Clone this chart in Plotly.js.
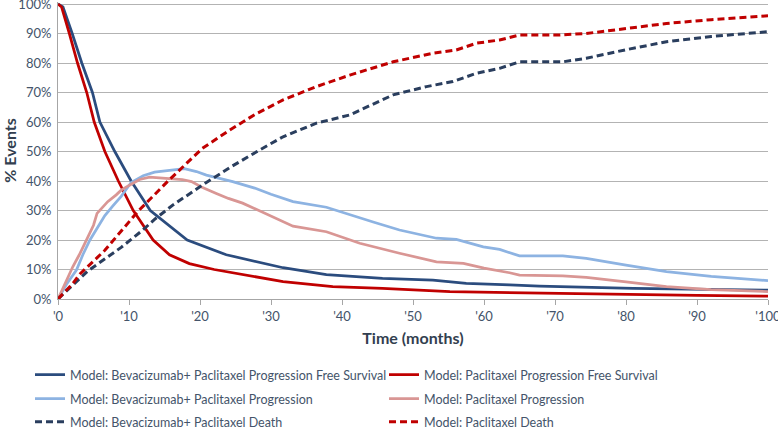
<!DOCTYPE html>
<html>
<head>
<meta charset="utf-8">
<script src="https://cdn.plot.ly/plotly-3.0.1.min.js"></script>
<style>html,body{margin:0;padding:0;background:#fff;}#chart{width:778px;height:429px;}</style>
</head>
<body>
<div id="chart"></div>
<script>
// Series names
const seriesNames = [
  'Model: Bevacizumab+ Paclitaxel Progression Free Survival',
  'Model: Paclitaxel Progression Free Survival',
  'Model: Bevacizumab+ Paclitaxel Progression',
  'Model: Paclitaxel Progression',
  'Model: Bevacizumab+ Paclitaxel Death',
  'Model: Paclitaxel Death'
];

// Bevacizumab+ Paclitaxel PFS
const bevPfsT = [0, 0.7, 2.0, 3.35, 4.85, 5.9, 8.0, 10.3, 13.0, 18.2, 23.7, 27.0, 31.7, 37.8, 45.7, 52.8, 57.5, 63.6, 67.8, 81.0, 90.0, 100];
const bevPfsV = [100, 99, 90, 80, 70, 60, 50, 40, 30, 20, 15, 13.2, 10.6, 8.3, 7.0, 6.4, 5.3, 4.8, 4.4, 3.6, 3.3, 3.0];

// Paclitaxel PFS
const pacPfsT = [0, 0.5, 1.6, 2.75, 4.05, 5.1, 6.6, 8.5, 10.6, 13.4, 15.7, 18.5, 22.0, 27.0, 31.7, 38.7, 45.7, 55.2, 62.2, 67.8, 80.0, 90.0, 100];
const pacPfsV = [100, 99, 90, 80, 70, 60, 50, 40, 30, 20, 15, 12, 10, 7.8, 5.9, 4.2, 3.6, 2.5, 2.2, 1.9, 1.5, 1.2, 1.0];

// Bevacizumab+ Paclitaxel Progression
const bevProgT = [0, 1.2, 2.6, 3.5, 4.5, 5.5, 6.6, 7.7, 8.9, 10.3, 12.0, 13.6, 15.3, 17.8, 19.5, 20.9, 24.6, 27.7, 30.0, 33.1, 37.8, 41.1, 44.5, 48.1, 53.3, 56.1, 59.9, 62.2, 65.0, 71.1, 74.4, 80.0, 85.7, 92.0, 100];
const bevProgV = [0, 5, 9.8, 15, 20, 24, 28.3, 31.5, 34.8, 39.5, 41.8, 43.0, 43.4, 44.2, 43.2, 42.0, 39.8, 37.6, 35.5, 33.0, 31.1, 28.5, 26.0, 23.4, 20.6, 20.2, 17.7, 16.8, 14.6, 14.6, 13.8, 11.5, 9.3, 7.7, 6.2];

// Paclitaxel Progression
const pacProgT = [0, 1.0, 2.1, 3.0, 4.0, 5.0, 5.5, 6.1, 7.0, 8.2, 8.9, 10.0, 11.5, 12.9, 15.0, 17.5, 18.8, 20.2, 22.3, 24.0, 26.0, 28.0, 30.5, 33.1, 37.8, 42.5, 48.1, 53.3, 57.1, 60.0, 63.6, 65.0, 71.1, 74.4, 80.0, 85.7, 92.0, 100];
const pacProgV = [0, 5.5, 11, 15, 20, 25, 29, 30.7, 33, 35.3, 36.9, 38.5, 40.5, 41.3, 41.0, 40.5, 39.8, 38.0, 35.8, 34.1, 32.5, 30.3, 27.5, 24.7, 22.8, 18.9, 15.5, 12.6, 12.1, 10.5, 8.9, 8.1, 7.8, 7.3, 5.8, 4.2, 3.2, 2.5];

// Bevacizumab+ Paclitaxel Death
const bevDeathT = [0, 4.2, 8.9, 12.0, 13.6, 16.2, 20.9, 24.5, 28.4, 31.7, 36.4, 41.1, 47.2, 51.9, 55.6, 58.9, 62.2, 65.0, 71.1, 74.4, 80.0, 85.7, 92.0, 100];
const bevDeathV = [0, 9.5, 17.5, 23.5, 27.0, 31.9, 39.5, 45.0, 50.5, 55.0, 59.6, 62.4, 69.2, 72.0, 73.7, 76.5, 78.2, 80.4, 80.4, 81.6, 84.5, 87.2, 89.0, 90.6];

// Paclitaxel Death
const pacDeathT = [0, 2.0, 3.1, 6.6, 7.3, 11.3, 15.5, 20.3, 24.0, 27.7, 31.7, 36.4, 41.1, 47.2, 52.8, 56.1, 58.9, 62.2, 65.0, 70.7, 74.4, 80.0, 85.7, 92.0, 100];
const pacDeathV = [0, 5.0, 8.5, 16.5, 18.5, 29.8, 40.0, 51.0, 57.0, 62.5, 67.5, 72.0, 75.9, 80.4, 83.3, 84.4, 86.7, 87.8, 89.5, 89.5, 90.0, 91.8, 93.4, 94.7, 96.0];

// Axis ticks
const xTickVals = [0, 10, 20, 30, 40, 50, 60, 70, 80, 90, 100];
const xTickText = ["'0", "'10", "'20", "'30", "'40", "'50", "'60", "'70", "'80", "'90", "'100"];
const yTickVals = [0, 10, 20, 30, 40, 50, 60, 70, 80, 90, 100];
const yTickText = ['0%', '10%', '20%', '30%', '40%', '50%', '60%', '70%', '80%', '90%', '100%'];

const FONT = 'Lato, "Open Sans", sans-serif';
const TXT = '#44546A';

function tr(x, y, name, color, dash, width, legend) {
  return {
    x: x, y: y, name: name, type: 'scatter', mode: 'lines',
    line: {color: color, width: width, dash: dash},
    legend: legend, hoverinfo: 'skip'
  };
}

const data = [
  tr(bevPfsT, bevPfsV, seriesNames[0], '#2B4C7E', 'solid', 2.75, 'legend'),
  tr(pacPfsT, pacPfsV, seriesNames[1], '#C00000', 'solid', 2.75, 'legend'),
  tr(bevProgT, bevProgV, seriesNames[2], '#8DB3E2', 'solid', 2.75, 'legend2'),
  tr(pacProgT, pacProgV, seriesNames[3], '#D99694', 'solid', 2.75, 'legend2'),
  tr(bevDeathT, bevDeathV, seriesNames[4], '#2A3E5E', '7px,4px', 3, 'legend3'),
  tr(pacDeathT, pacDeathV, seriesNames[5], '#C00000', '7px,4px', 3, 'legend3')
];

const plotH = 297;
function legendAt(py) {
  return {
    orientation: 'h', entrywidth: 309, entrywidthmode: 'pixels',
    x: (30 - 58) / 710, xanchor: 'left',
    y: (299 - py) / plotH, yanchor: 'middle',
    font: {family: FONT, size: 12.5, color: TXT},
    bgcolor: 'rgba(0,0,0,0)', borderwidth: 0
  };
}

const layout = {
  width: 778, height: 429,
  margin: {l: 58, r: 10, t: 2, b: 130, autoexpand: false},
  paper_bgcolor: '#ffffff', plot_bgcolor: '#ffffff',
  font: {family: FONT, size: 13, color: TXT},
  showlegend: true,
  legend: legendAt(375),
  legend2: legendAt(399),
  legend3: legendAt(422),
  xaxis: {
    range: [0, 100], tickvals: xTickVals, ticktext: xTickText,
    showgrid: false, zeroline: false,
    showline: true, linecolor: '#A6A6A6', linewidth: 1,
    ticks: 'outside', ticklen: 5, tickcolor: '#A6A6A6',
    ticklabeloverflow: 'allow',
    tickfont: {family: FONT, size: 13, color: TXT},
    title: {text: 'Time (months)', font: {family: FONT, size: 16, color: '#333F50', weight: 'bold'}, standoff: 10},
    fixedrange: true
  },
  yaxis: {
    range: [0, 100.68], tickvals: yTickVals, ticktext: yTickText,
    showgrid: true, gridcolor: '#B3B3B3', gridwidth: 1,
    zeroline: false, showline: true, linecolor: '#A6A6A6', linewidth: 1,
    ticks: 'outside', ticklen: 3, tickcolor: 'rgba(0,0,0,0)', ticklabeloverflow: 'allow',
    tickfont: {family: FONT, size: 13, color: TXT},
    title: {text: '% Events', font: {family: FONT, size: 16, color: '#333F50', weight: 'bold'}, standoff: 4},
    fixedrange: true
  }
};

Plotly.newPlot('chart', data, layout, {displayModeBar: false, staticPlot: true});
</script>
</body>
</html>
